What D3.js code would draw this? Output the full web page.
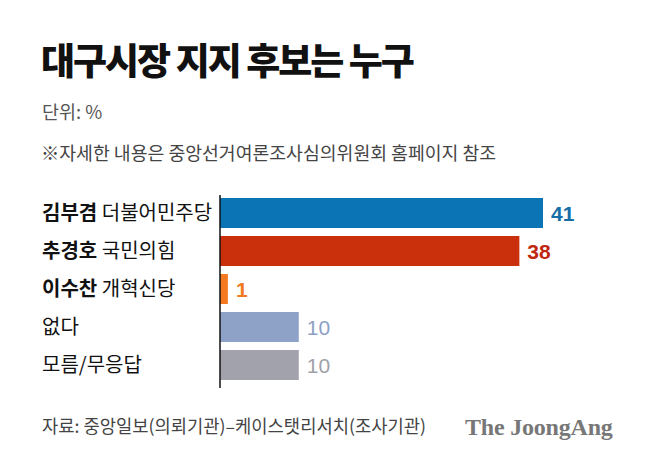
<!DOCTYPE html>
<html><head><meta charset="utf-8">
<script src="https://cdn.jsdelivr.net/npm/d3@7"></script>
<style>
html,body{margin:0;padding:0;background:#fff;}
svg{display:block;font-family:"Noto Sans CJK KR","Noto Sans",sans-serif;}
</style></head>
<body>
<svg id="chart" width="658" height="464"></svg>
<script>
const candidates = ["김부겸", "추경호", "이수찬", "", ""];
const parties = ["더불어민주당", "국민의힘", "개혁신당", "없다", "모름/무응답"];
const values = [41, 38, 1, 10, 10];
const barColors = ["#0a74b4", "#c9300b", "#f57921", "#8ea2c8", "#a2a2ac"];
const labelColors = ["#156ea6", "#c0270f", "#ef7a22", "#8d9fc5", "#a0a0a8"];
const labelBold = [true, true, true, false, false];

const title = "대구시장 지지 후보는 누구";
const unit = "단위: %";
const note = "※자세한 내용은 중앙선거여론조사심의위원회 홈페이지 참조";
const source = "자료: 중앙일보(의뢰기관)–케이스탯리서치(조사기관)";
const brand = "The JoongAng";

const svg = d3.select("#chart");
const keys = d3.range(values.length);

const x = d3.scaleLinear().domain([0, 41]).range([220, 543]);
const y = d3.scaleBand().domain(keys).range([194, 384]).paddingInner(8/38).paddingOuter(4/38);

svg.append("text").attr("x", 41).attr("y", 75)
  .attr("font-size", 37).attr("font-weight", 900).attr("letter-spacing", -2)
  .attr("fill", "#111").text(title);

svg.append("text").attr("x", 42).attr("y", 119)
  .attr("font-size", 18.5).attr("fill", "#555").text(unit);

svg.append("text").attr("x", 41).attr("y", 160)
  .attr("font-size", 18.3).attr("fill", "#444").text(note);

// bars
svg.selectAll("rect.bar").data(keys).enter().append("rect")
  .attr("class", "bar")
  .attr("x", x(0))
  .attr("y", d => y(d))
  .attr("width", d => x(values[d]) - x(0))
  .attr("height", y.bandwidth())
  .attr("fill", d => barColors[d]);

// axis line
svg.append("line").attr("x1", 220).attr("x2", 220).attr("y1", 195).attr("y2", 388)
  .attr("stroke", "#111").attr("stroke-width", 1.5);

// category labels
const lab = svg.selectAll("text.cat").data(keys).enter().append("text")
  .attr("class", "cat")
  .attr("x", 42)
  .attr("y", d => y(d) + y.bandwidth() / 2)
  .attr("dy", "0.36em")
  .attr("font-size", 20)
  .attr("fill", "#111");
lab.append("tspan").attr("font-weight", 700).text(d => candidates[d] ? candidates[d] + " " : "");
lab.append("tspan").attr("font-weight", 400).text(d => parties[d]);

// value labels
svg.selectAll("text.val").data(keys).enter().append("text")
  .attr("class", "val")
  .attr("x", d => x(values[d]) + 8)
  .attr("y", d => y(d) + y.bandwidth() / 2)
  .attr("dy", "0.36em")
  .attr("font-family", "'Liberation Sans', Arial, sans-serif")
  .attr("font-size", 21)
  .attr("font-weight", d => labelBold[d] ? 700 : 400)
  .attr("fill", d => labelColors[d])
  .text(d => values[d]);

svg.append("text").attr("x", 42).attr("y", 433)
  .attr("font-size", 17.7).attr("fill", "#444").text(source);

svg.append("text").attr("x", 465).attr("y", 435)
  .attr("font-family", "'Liberation Serif', serif").attr("font-weight", 700)
  .attr("font-size", 24).attr("fill", "#777").attr("letter-spacing", -0.2)
  .text(brand);
</script>
</body></html>
